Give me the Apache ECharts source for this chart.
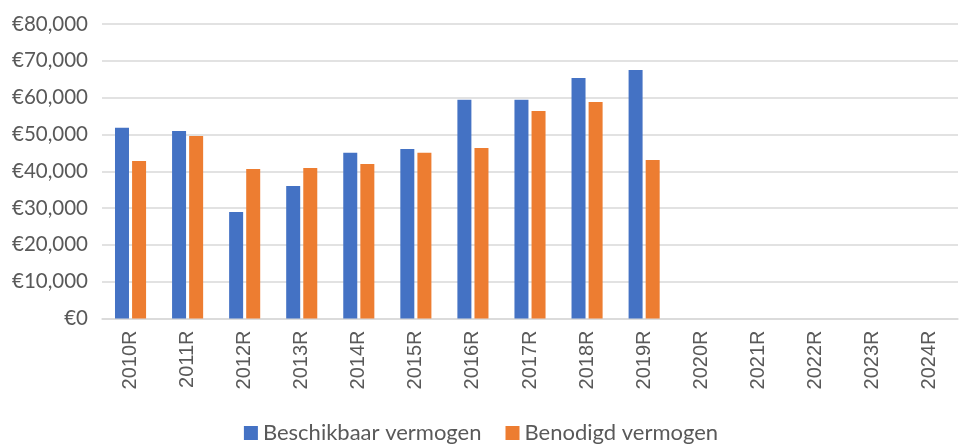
<!DOCTYPE html>
<html>
<head>
<meta charset="utf-8">
<script src="https://cdn.jsdelivr.net/npm/echarts@6/dist/echarts.min.js"></script>
<style>
  html, body { margin: 0; padding: 0; background: #fff; }
  #chart { width: 962px; height: 444px; }
</style>
</head>
<body>
<div id="chart"></div>
<script>
// categorieen (jaren)
var jaren = ['2010R','2011R','2012R','2013R','2014R','2015R','2016R','2017R','2018R','2019R','2020R','2021R','2022R','2023R','2024R'];
// beschikbaar vermogen
var beschikbaar = [51800, 50950, 28950, 36000, 45000, 46050, 59400, 59400, 65350, 67500, null, null, null, null, null];
// benodigd vermogen
var benodigd = [42800, 49600, 40600, 40900, 42000, 45000, 46300, 56400, 58800, 43050, null, null, null, null, null];

var fontNaam = 'Lato, "Open Sans", sans-serif';
var asFont = '"Liberation Sans", Arial, sans-serif';
var tekstKleur = '#595959';

function euro(v) {
	if (v === 0) return '€0';
	return '€' + v.toLocaleString('en-US');
}

var myChart = echarts.init(document.getElementById('chart'));
myChart.setOption({
	animation: false,
	grid: {
		left: 102,
		right: 4,
		top: 24,
		bottom: 125.5,
		containLabel: false
	},
	legend: {
		top: 417,
		left: 'center',
		itemWidth: 14,
		itemHeight: 14,
		itemGap: 24,
		icon: 'rect',
		textStyle: { fontFamily: fontNaam, fontSize: 22, color: tekstKleur },
		data: ['Beschikbaar vermogen', 'Benodigd vermogen']
	},
	xAxis: {
		type: 'category',
		data: jaren,
		axisLine: { lineStyle: { color: '#d9d9d9', width: 1.5 } },
		axisTick: { show: false },
		axisLabel: {
			rotate: 90,
			margin: 12,
			fontFamily: asFont,
			fontSize: 20,
			color: tekstKleur
		}
	},
	yAxis: {
		type: 'value',
		min: 0,
		max: 80000,
		interval: 10000,
		axisLine: { show: false },
		axisTick: { show: false },
		splitLine: { lineStyle: { color: '#d9d9d9', width: 1.5 } },
		axisLabel: {
			margin: 14,
			fontFamily: fontNaam,
			fontSize: 20.5,
			color: tekstKleur,
			formatter: euro
		}
	},
	series: [
		{
			name: 'Beschikbaar vermogen',
			type: 'bar',
			data: beschikbaar,
			barWidth: 14,
			barGap: '22%',
			itemStyle: { color: '#4472c4' }
		},
		{
			name: 'Benodigd vermogen',
			type: 'bar',
			data: benodigd,
			barWidth: 14,
			itemStyle: { color: '#ed7d31' }
		}
	]
});
</script>
</body>
</html>
